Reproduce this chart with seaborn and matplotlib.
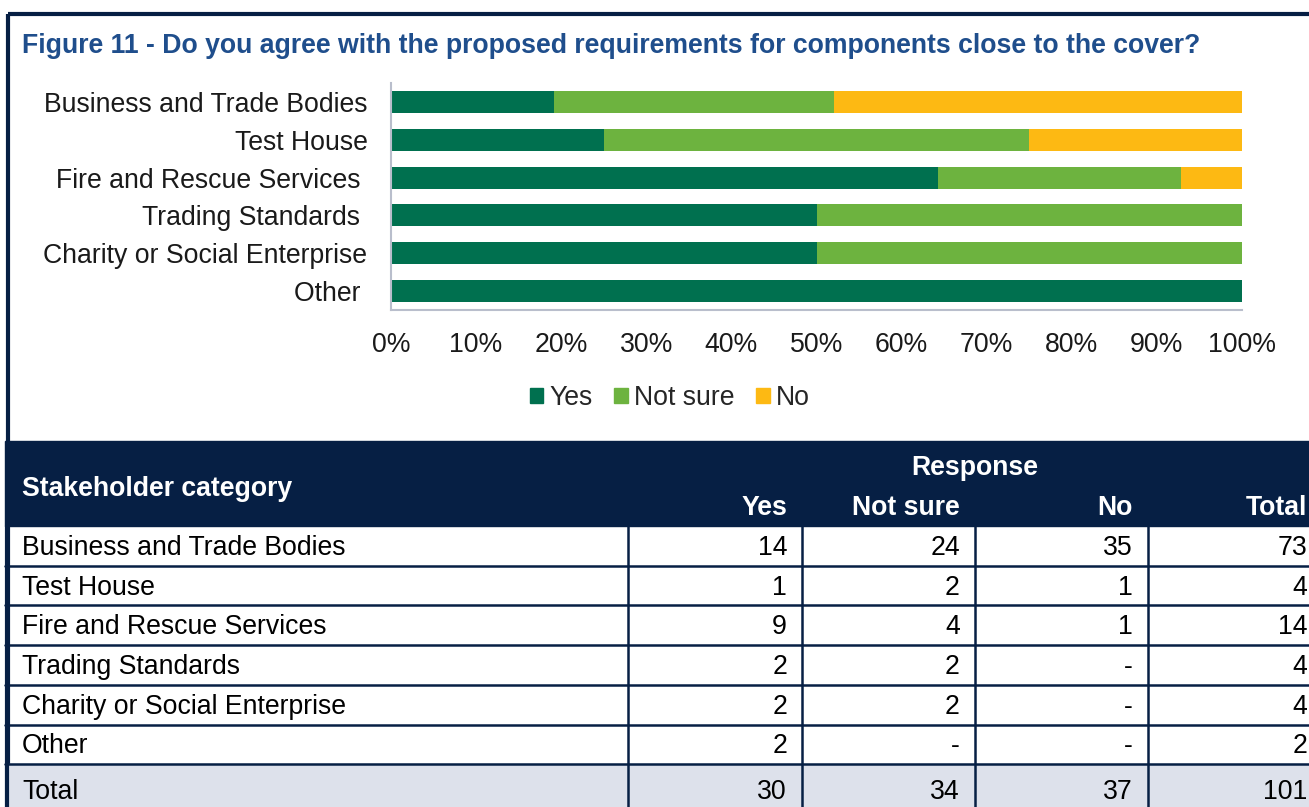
import numpy as np
import pandas as pd
import matplotlib
matplotlib.use("Agg")
import matplotlib.pyplot as plt
from matplotlib.patches import Rectangle, Patch
from matplotlib.ticker import PercentFormatter
import seaborn as sns

# data
categories = ["Business and Trade Bodies", "Test House", "Fire and Rescue Services",
              "Trading Standards", "Charity or Social Enterprise", "Other"]
# the chart labels of some rows carry a trailing space in the original
chart_labels = ["Business and Trade Bodies", "Test House", "Fire and Rescue Services ",
                "Trading Standards ", "Charity or Social Enterprise", "Other "]
responses = ["Yes", "Not sure", "No"]
yes = [14, 1, 9, 2, 2, 2]
not_sure = [24, 2, 4, 2, 2, 0]
no = [35, 1, 1, 0, 0, 0]

title = "Figure 11 - Do you agree with the proposed requirements for components close to the cover?"
colors = {"Yes": "#00704F", "Not sure": "#6DB33F", "No": "#FDB913"}
navy = "#061F44"
title_col = "#1F4E8C"
total_fill = "#DDE1EB"
spine_col = "#B9BECC"

sns.set_theme(style="white")
plt.rcParams["font.family"] = ["Liberation Sans", "DejaVu Sans"]
FS = 19.2

df = pd.DataFrame({"label": chart_labels, "Yes": yes, "Not sure": not_sure, "No": no})
df["total"] = df[responses].sum(axis=1)
# cumulative shares, drawn back to front so they look stacked
df["c_yes"] = df["Yes"] / df["total"]
df["c_ns"] = (df["Yes"] + df["Not sure"]) / df["total"]
df["c_no"] = (df["Yes"] + df["Not sure"] + df["No"]) / df["total"]

W, H = 1309, 807
fig = plt.figure(figsize=(W / 100, H / 100), dpi=100)

# background layer in pixel coords: frame, title, table
bg = fig.add_axes([0, 0, 1, 1])
bg.set_xlim(0, W)
bg.set_ylim(H, 0)
bg.axis("off")

bg.add_patch(Rectangle((8, 14), 1330, 900, fill=False, ec=navy, lw=3))
bg.text(22, 46, title, fontsize=FS, fontweight="bold", color=title_col, va="center", ha="left")

# chart
ax = fig.add_axes([391 / W, 1 - 310 / H, 851 / W, 227 / H])
for col, key in [("No", "c_no"), ("Not sure", "c_ns"), ("Yes", "c_yes")]:
    sns.barplot(data=df, x=key, y="label", color=colors[col], saturation=1,
                width=0.58, orient="y", ax=ax, linewidth=0)
ax.set_xlim(0, 1)
ax.set_xticks(np.arange(0, 1.01, 0.1))
ax.xaxis.set_major_formatter(PercentFormatter(1.0, decimals=0))
ax.set_xlabel("")
ax.set_ylabel("")
ax.tick_params(axis="both", length=0, labelsize=FS, labelcolor="#1a1a1a")
ax.tick_params(axis="y", pad=17)
ax.tick_params(axis="x", pad=16)
for s in ["top", "right"]:
    ax.spines[s].set_visible(False)
for s in ["left", "bottom"]:
    ax.spines[s].set_color(spine_col)
    ax.spines[s].set_linewidth(1.5)

handles = [Patch(color=colors[r]) for r in responses]
fig.legend(handles, responses, loc="center", bbox_to_anchor=(670 / W, 1 - 398 / H),
           ncol=3, frameon=False, fontsize=FS, handlelength=0.5, handleheight=0.5,
           handletextpad=0.25, columnspacing=0.8)

# table
col_edges = [628, 802, 975, 1148, 1322]
hdr_top, hdr_bot = 441, 526
row_h = 39.7
tab_right = 1335
dy = 2  # small nudge so text sits like the original

bg.add_patch(Rectangle((5, hdr_top), tab_right, hdr_bot - hdr_top, color=navy, zorder=1))
bg.text(22, 487 + dy, "Stakeholder category", fontsize=FS, fontweight="bold", color="white",
        va="center", ha="left", zorder=3)
bg.text((col_edges[1] + col_edges[3]) / 2, 466 + dy, "Response", fontsize=FS, fontweight="bold",
        color="white", va="center", ha="center", zorder=3)
for name, right in zip(responses + ["Total"], col_edges[1:]):
    bg.text(right - 15, 506 + dy, name, fontsize=FS, fontweight="bold", color="white",
            va="center", ha="right", zorder=3)

rows = [(c, [y, n, o, y + n + o]) for c, y, n, o in zip(categories, yes, not_sure, no)]
rows.append(("Total", [sum(yes), sum(not_sure), sum(no), sum(yes) + sum(not_sure) + sum(no)]))

top = hdr_bot
for i, (name, vals) in enumerate(rows):
    is_total = name == "Total"
    h = 70 if is_total else row_h
    if is_total:
        bg.add_patch(Rectangle((5, top), tab_right, h, color=total_fill, zorder=1))
        yc = top + 28
    else:
        bg.plot([5, tab_right], [top + h, top + h], color=navy, lw=1.8, zorder=2)
        yc = top + h / 2 + dy
    bg.text(22, yc, name, fontsize=FS, color="black", va="center", ha="left", zorder=3)
    for v, right in zip(vals, col_edges[1:]):
        bg.text(right - 15, yc, str(v) if v else "-", fontsize=FS, color="black",
                va="center", ha="right", zorder=3)
    top += h

for x in col_edges[:-1]:
    bg.plot([x, x], [hdr_bot, H + 5], color=navy, lw=1.8, zorder=2)
bg.plot([7, 7], [hdr_bot, H + 5], color=navy, lw=3, zorder=2)

fig.savefig("out.png", dpi=100)
